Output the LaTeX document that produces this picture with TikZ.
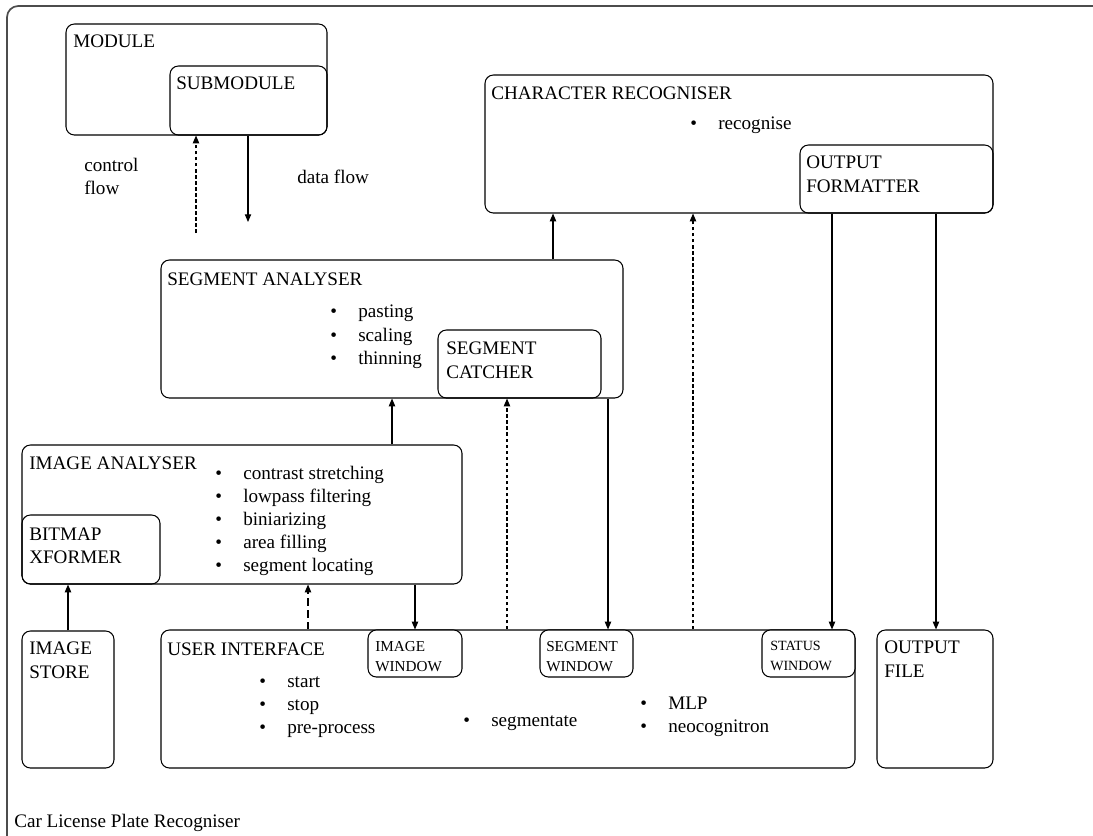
\documentclass[tikz,border=0pt]{standalone}
\usepackage{fontspec}
\setmainfont{Liberation Serif}
\usetikzlibrary{arrows.meta, fit, positioning}

\newcommand{\bul}[1]{\makebox[0.7cm][l]{\textbullet}#1}

\begin{document}
\begin{tikzpicture}[x=0.025cm, y=-0.025cm,
    box/.style={draw, line width=0.75pt, rounded corners=6pt, inner sep=0pt},
    frame/.style={draw=black!70, line width=1.2pt, rounded corners=8pt, inner sep=0pt},
    lbl/.style={anchor=north west, inner sep=0pt, align=left, font=\fontsize{13.6}{16.4}\selectfont},
    win/.style={lbl, font=\fontsize{10.8}{14.2}\selectfont},
    data/.style={-{Triangle[length=5.5pt,width=4.5pt]}, line width=0.75pt},
    ctrl/.style={data, dash pattern=on 2.5pt off 1.8pt},
    ctrllong/.style={data, dash pattern=on 5.5pt off 3pt}]
    \useasboundingbox (0,0) rectangle (1093,836);

    % Outer frame
    \node[frame, fit={(7,6) (1130,870)}] (clpr) {};
    \node[lbl] (clprt) at (14,814) {Car License Plate Recogniser};

    % Legend
    \node[box, fit={(66,24) (327,135)}] (mod) {};
    \node[lbl] (modt) at (73,35) {MODULE};
    \node[box, fit={(170,66) (327,135)}] (submod) {};
    \node[lbl] (submodt) at (176,77) {SUBMODULE};
    \coordinate (ctrlend) at (196,233);
    \coordinate (dataend) at (248,222);
    \draw[ctrl] (ctrlend) -- (ctrlend |- submod.south);
    \draw[data] (dataend |- submod.south) -- (dataend);
    \node[lbl] (ctrlt) at (84,158) {control\\flow};
    \node[lbl] (datat) at (297,170) {data flow};

    % Character recogniser
    \node[box, fit={(485,75) (993,213)}] (cr) {};
    \node[lbl] (crt) at (491,87) {CHARACTER RECOGNISER};
    \node[lbl] (crlist) at (690,117) {\bul{recognise}};
    \node[box, fit={(800,145) (993,213)}] (fmt) {};
    \node[lbl] (fmtt) at (806,156) {OUTPUT\\FORMATTER};

    % Segment analyser
    \node[box, fit={(161,260) (623,398)}] (sa) {};
    \node[lbl] (sat) at (167,273) {SEGMENT ANALYSER};
    \node[lbl] (salist) at (330,305) {\bul{pasting}\\\bul{scaling}\\\bul{thinning}};
    \node[box, fit={(438,330) (601,398)}] (catcher) {};
    \node[lbl] (catchert) at (446,342) {SEGMENT\\CATCHER};

    % Image analyser
    \node[box, fit={(22,445) (462,584)}] (ia) {};
    \node[lbl] (iat) at (29,457) {IMAGE ANALYSER};
    \node[lbl] (ialist) at (215,466) {\bul{contrast stretching}\\\bul{lowpass filtering}\\\bul{biniarizing}\\\bul{area filling}\\\bul{segment locating}};
    \node[box, fit={(22,515) (160,584)}] (bx) {};
    \node[lbl] (bxt) at (29,528) {BITMAP\\XFORMER};

    % Bottom row
    \node[box, fit={(22,631) (114,768)}] (store) {};
    \node[lbl] (storet) at (29,642) {IMAGE\\STORE};
    \node[box, fit={(161,630) (855,768)}] (ui) {};
    \node[lbl] (uit) at (167,643) {USER INTERFACE};
    \node[lbl] (uilist1) at (259,676) {\bul{start}\\\bul{stop}\\\bul{pre-process}};
    \node[lbl] (uilist2) at (463,715) {\bul{segmentate}};
    \node[lbl] (uilist3) at (640,697) {\bul{MLP}\\\bul{neocognitron}};
    \node[box, fill=white, fit={(368,630) (462,677)}] (imgwin) {};
    \node[win] (imgwint) at (375,641) {IMAGE\\WINDOW};
    \node[box, fill=white, fit={(540,630) (633,677)}] (segwin) {};
    \node[win] (segwint) at (546,641) {SEGMENT\\WINDOW};
    \node[box, fill=white, fit={(762,630) (855,677)}] (statwin) {};
    \node[win, font=\fontsize{10}{14.2}\selectfont] (statwint) at (770,641) {STATUS\\WINDOW};
    \node[box, fit={(877,630) (993,768)}] (file) {};
    \node[lbl] (filet) at (884,641) {OUTPUT\\FILE};

    % Connections
    \draw[data] (sa.north -| 553,0) -- (cr.south -| 553,0);
    \draw[ctrl] (ui.north -| 693,0) -- (cr.south -| 693,0);
    \draw[data] (fmt.south -| 832,0) -- (statwin.north -| 832,0);
    \draw[data] (cr.south -| 936,0) -- (file.north -| 936,0);
    \draw[data] (ia.north -| 392,0) -- (sa.south -| 392,0);
    \draw[ctrl] (ui.north -| 507,0) -- (catcher.south -| 507,0);
    \draw[data] (sa.south -| 608,0) -- (segwin.north -| 608,0);
    \draw[data] (store.north -| 68,0) -- (bx.south -| 68,0);
    \draw[ctrllong] (ui.north -| 308,0) -- (ia.south -| 308,0);
    \draw[data] (ia.south -| 415,0) -- (imgwin.north -| 415,0);
\end{tikzpicture}
\end{document}
